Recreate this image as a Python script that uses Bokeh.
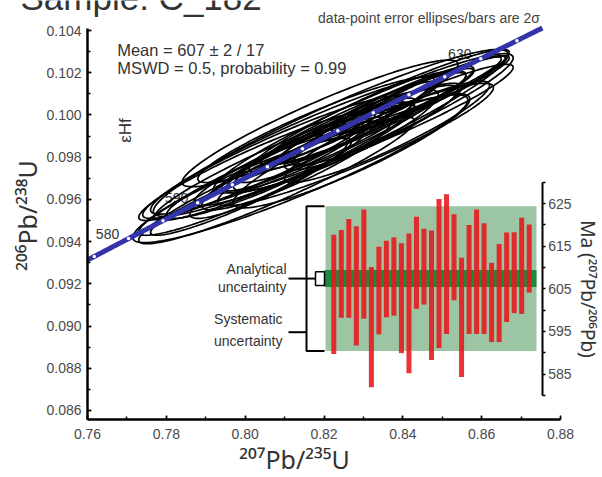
import numpy as np
from bokeh.plotting import figure
from bokeh.models import (Range1d, SingleIntervalTicker, FixedTicker, NumeralTickFormatter,
                          LinearAxis)
from bokeh.core.properties import value
from bokeh.embed import file_html
from bokeh.resources import INLINE

# ---------------- data ----------------
# U-Pb ratio ellipses (2 sigma): 207Pb/235U, 206Pb/238U, error correlation
ell_x   = [0.8217, 0.8140, 0.8300, 0.8340, 0.8430, 0.8470, 0.8380, 0.8300, 0.8250,
           0.8200, 0.8150, 0.8100, 0.8050, 0.8000, 0.7960, 0.8080, 0.8180, 0.8260,
           0.8340, 0.8120, 0.8030, 0.8280, 0.8400, 0.8220, 0.8160, 0.8070, 0.8450,
           0.8230, 0.8320, 0.8130, 0.8270, 0.8360, 0.8190, 0.8060, 0.8400]
ell_sx  = [0.0450, 0.0425, 0.0380, 0.0330, 0.0240, 0.0180, 0.0200, 0.0260, 0.0300,
           0.0220, 0.0280, 0.0330, 0.0250, 0.0270, 0.0200, 0.0350, 0.0300, 0.0170,
           0.0150, 0.0180, 0.0300, 0.0350, 0.0280, 0.0140, 0.0400, 0.0330, 0.0210,
           0.0260, 0.0220, 0.0240, 0.0300, 0.0260, 0.0350, 0.0200, 0.0180]
ell_y   = [0.09915, 0.09745, 0.09960, 0.10020, 0.10080, 0.10120, 0.10050, 0.09980, 0.09890,
           0.09870, 0.09810, 0.09780, 0.09720, 0.09660, 0.09600, 0.09690, 0.09930, 0.09930,
           0.10030, 0.09800, 0.09760, 0.09860, 0.10000, 0.09890, 0.09870, 0.09800, 0.10100,
           0.09880, 0.09940, 0.09770, 0.09830, 0.09920, 0.09960, 0.09700, 0.10070]
ell_sy  = [0.00395, 0.00350, 0.00330, 0.00290, 0.00200, 0.00155, 0.00170, 0.00220, 0.00260,
           0.00190, 0.00240, 0.00280, 0.00210, 0.00230, 0.00170, 0.00300, 0.00250, 0.00150,
           0.00130, 0.00160, 0.00260, 0.00290, 0.00240, 0.00120, 0.00340, 0.00290, 0.00180,
           0.00240, 0.00200, 0.00220, 0.00270, 0.00240, 0.00300, 0.00190, 0.00160]
ell_rho = [0.94, 0.93, 0.94, 0.95, 0.95, 0.94, 0.93, 0.94, 0.93,
           0.92, 0.93, 0.94, 0.92, 0.93, 0.92, 0.94, 0.93, 0.92,
           0.92, 0.91, 0.94, 0.93, 0.94, 0.90, 0.94, 0.94, 0.94,
           0.90, 0.90, 0.90, 0.91, 0.92, 0.93, 0.90, 0.92]

# 207Pb/206Pb ages (Ma) and 2 sigma errors for the bar panel
bar_age = [603.7, 608.5, 609.8, 605.7, 610.8, 596.0, 604.6, 607.3, 607.9,
           602.8, 601.6, 611.1, 610.2, 603.5, 608.6, 610.8, 612.4, 598.3,
           607.2, 609.0, 607.4, 601.8, 604.0, 607.7, 608.8, 610.4, 612.1]
bar_err = [14.0, 10.3, 11.6, 14.0, 12.8, 14.1, 10.3, 9.0, 9.2,
           12.9, 16.4, 10.8, 8.9, 15.2, 17.5, 16.4, 10.1, 14.0,
           12.8, 14.6, 13.0, 9.3, 11.5, 10.5, 9.5, 11.3, 8.0]
mean_age = 607.4
err_analytical = 2.0
err_systematic = 17.0

concordia_labels = [580, 590, 630]
concordia_marks = [575, 580, 585, 590, 595, 600, 605, 610, 615, 620, 625, 630, 635]
ma_major = [585, 595, 605, 615, 625]
ma_minor = [580, 590, 600, 610, 620, 630]

L235 = 9.8485e-10
L238 = 1.55125e-10

# ---------------- layout helpers (pixel -> data) ----------------
W, H = 602, 477
AX_L, AX_R, AX_T, AX_B = 87, 560, 28, 419       # main axes box in pixels
XPX = (AX_R - AX_L) / 0.12                      # pixels per unit of 207/235
YPX = 21111.0                                   # pixels per unit of 206/238
def X(px): return 0.76 + (px - AX_L) / XPX
def Y(px): return 0.104 - (px - 30) / YPX
MA_PX = 4.26
def MA(px): return 605 + (288.3 - px) / MA_PX
BAR_PX = 7.515
def IDX(px): return (px - 333.3) / BAR_PX + 1

FONT = "Liberation Sans"
SUPFONT = "Noto Sans"

p = figure(width=W, height=H, min_border=0, title=None,
           x_range=Range1d(X(0), X(W)), y_range=Range1d(Y(H), Y(0)),
           output_backend="svg", toolbar_location=None)
p.extra_x_ranges = {"idx": Range1d(IDX(0), IDX(W))}
p.extra_y_ranges = {"ma": Range1d(MA(H), MA(0))}
p.outline_line_color = None
p.grid.visible = False
p.background_fill_color = "white"
p.border_fill_color = "white"

def style_axis(ax, size="14px"):
    ax.axis_line_width = 2.5
    ax.axis_line_color = "black"
    ax.major_tick_in = 4
    ax.major_tick_out = 0
    ax.minor_tick_in = 3
    ax.minor_tick_out = 0
    ax.major_tick_line_width = 1.5
    ax.minor_tick_line_width = 1.5
    ax.major_label_text_font = FONT
    ax.major_label_text_font_size = size
    ax.major_label_text_color = "#4a4a4a"
    ax.axis_label_text_font = SUPFONT
    ax.axis_label_text_font_style = "normal"
    ax.axis_label_text_color = "#333333"

xa, ya = p.xaxis[0], p.yaxis[0]
style_axis(xa)
style_axis(ya)
xa.fixed_location = Y(AX_B)
xa.bounds = (0.76, 0.88)
xa.ticker = SingleIntervalTicker(interval=0.02, num_minor_ticks=2)
xa.formatter = NumeralTickFormatter(format="0.00")
xa.major_label_standoff = 9
ya.fixed_location = 0.76
ya.bounds = (Y(AX_B), Y(AX_T))
ya.ticker = SingleIntervalTicker(interval=0.002, num_minor_ticks=2)
ya.formatter = NumeralTickFormatter(format="0.000")
ya.major_label_standoff = 6

# axis titles (placed where the reference has them)
p.text(x=[X(294)], y=[Y(458)], text=["²⁰⁷Pb/²³⁵U"], text_font=value(SUPFONT),
       text_font_size="25px", text_align="center", text_baseline="middle",
       text_color="#333333")
p.text(x=[X(26)], y=[Y(215)], text=["²⁰⁶Pb/²³⁸U"], angle=np.pi / 2,
       text_font=value(SUPFONT), text_font_size="25px", text_align="center",
       text_baseline="middle", text_color="#333333")

# right-hand age axis (Ma) placed inside the chart
ma_axis = LinearAxis(y_range_name="ma", x_range_name="idx", fixed_location=IDX(541.7),
                     bounds=(580, 630),
                     ticker=FixedTicker(ticks=ma_major, minor_ticks=ma_minor))
style_axis(ma_axis)
ma_axis.axis_line_width = 2
ma_axis.major_tick_in = 0
ma_axis.major_tick_out = 3
ma_axis.minor_tick_in = 0
ma_axis.minor_tick_out = 3
ma_axis.major_label_standoff = 3
ma_axis.axis_label = "Ma (²⁰⁷Pb/²⁰⁶Pb)"
ma_axis.axis_label_text_font_size = "19px"
ma_axis.axis_label_standoff = 0
p.add_layout(ma_axis, "right")

# ---------------- bar panel ----------------
p.quad(left=IDX(325), right=IDX(536), bottom=mean_age - err_systematic,
       top=mean_age + err_systematic, fill_color="#9cc6a3", line_color=None,
       x_range_name="idx", y_range_name="ma")
p.quad(left=IDX(324), right=IDX(536), bottom=mean_age - err_analytical,
       top=mean_age + err_analytical, fill_color="#1c8a3c", line_color=None,
       x_range_name="idx", y_range_name="ma")
idx = list(range(1, len(bar_age) + 1))
lo = [a - e for a, e in zip(bar_age, bar_err)]
hi = [a + e for a, e in zip(bar_age, bar_err)]
p.vbar(x=idx, width=5 / BAR_PX, bottom=lo, top=hi, fill_color="#e8161b",
       fill_alpha=0.88, line_color=None, x_range_name="idx", y_range_name="ma")

# bracket for systematic uncertainty
top_s, bot_s = mean_age + err_systematic, mean_age - err_systematic
p.line(x=[IDX(324), IDX(306), IDX(306), IDX(324)], y=[top_s, top_s, bot_s, bot_s],
       line_color="black", line_width=2, x_range_name="idx", y_range_name="ma")
p.line(x=[IDX(288), IDX(315)], y=[mean_age, mean_age], line_color="black",
       line_width=2, x_range_name="idx", y_range_name="ma")
p.line(x=[IDX(288), IDX(306)], y=[MA(331.7), MA(331.7)], line_color="black",
       line_width=2, x_range_name="idx", y_range_name="ma")
p.quad(left=IDX(315), right=IDX(324), bottom=mean_age - err_analytical * 0.8,
       top=mean_age + err_analytical * 0.8, fill_color="white", line_color="black",
       line_width=1.5, x_range_name="idx", y_range_name="ma")

p.text(x=[IDX(286), IDX(286), IDX(282), IDX(282)],
       y=[MA(268.3), MA(286.7), MA(318.3), MA(340.0)],
       text=["Analytical", "uncertainty", "Systematic", "uncertainty"],
       text_align="right", text_baseline="middle", text_font=value(FONT),
       text_font_size="14px", text_color="#333333",
       x_range_name="idx", y_range_name="ma")

# ---------------- concordia labels (under ellipses) ----------------
lab_t = np.array(concordia_labels, dtype=float) * 1e6
p.text(x=np.expm1(L235 * lab_t), y=np.expm1(L238 * lab_t),
       text=[str(v) for v in concordia_labels], x_offset=-21, y_offset=-5,
       text_align="center", text_baseline="middle", text_font=value(FONT),
       text_font_size="14px", text_color="#333333")

# ---------------- error ellipses ----------------
th = np.linspace(0, 2 * np.pi, 181)
xs, ys = [], []
for cx, sx, cy, sy, r in zip(ell_x, ell_sx, ell_y, ell_sy, ell_rho):
    xs.append(cx + sx * np.cos(th))
    ys.append(cy + sy * (r * np.cos(th) + np.sqrt(1 - r * r) * np.sin(th)))
p.multi_line(xs=xs, ys=ys, line_color="black", line_width=1.7)

# ---------------- concordia ----------------
t = np.linspace(574, 638.5, 200) * 1e6
p.line(x=np.expm1(L235 * t), y=np.expm1(L238 * t), line_color="#3333aa", line_width=5)
mt = np.array(concordia_marks, dtype=float) * 1e6
p.scatter(x=np.expm1(L235 * mt), y=np.expm1(L238 * mt), size=3.5, fill_color="white",
          line_color=None)

# ---------------- texts ----------------
p.text(x=[X(116.7), X(116.7)], y=[Y(49.3), Y(67.7)],
       text=["Mean = 607 ± 2 / 17", "MSWD = 0.5, probability = 0.99"],
       text_font=value(FONT), text_font_size="16.5px", text_baseline="middle",
       text_color="#333333")
p.text(x=[X(125)], y=[Y(130)], text=["εHf"], angle=np.pi / 2, text_font=value(FONT),
       text_font_size="17px", text_align="center", text_baseline="middle",
       text_color="#333333")
p.text(x=[X(428.5)], y=[Y(17)], text=["data-point error ellipses/bars are 2σ"],
       text_font=value(FONT), text_font_size="14px", text_align="center",
       text_baseline="middle", text_color="#444444")
p.text(x=[X(20)], y=[Y(-3)], text=["Sample: C_182"], text_font=value(FONT),
       text_font_size="35px", text_align="left", text_baseline="alphabetic",
       text_color="#333333")

open("out.html", "w").write(file_html(p, INLINE))
